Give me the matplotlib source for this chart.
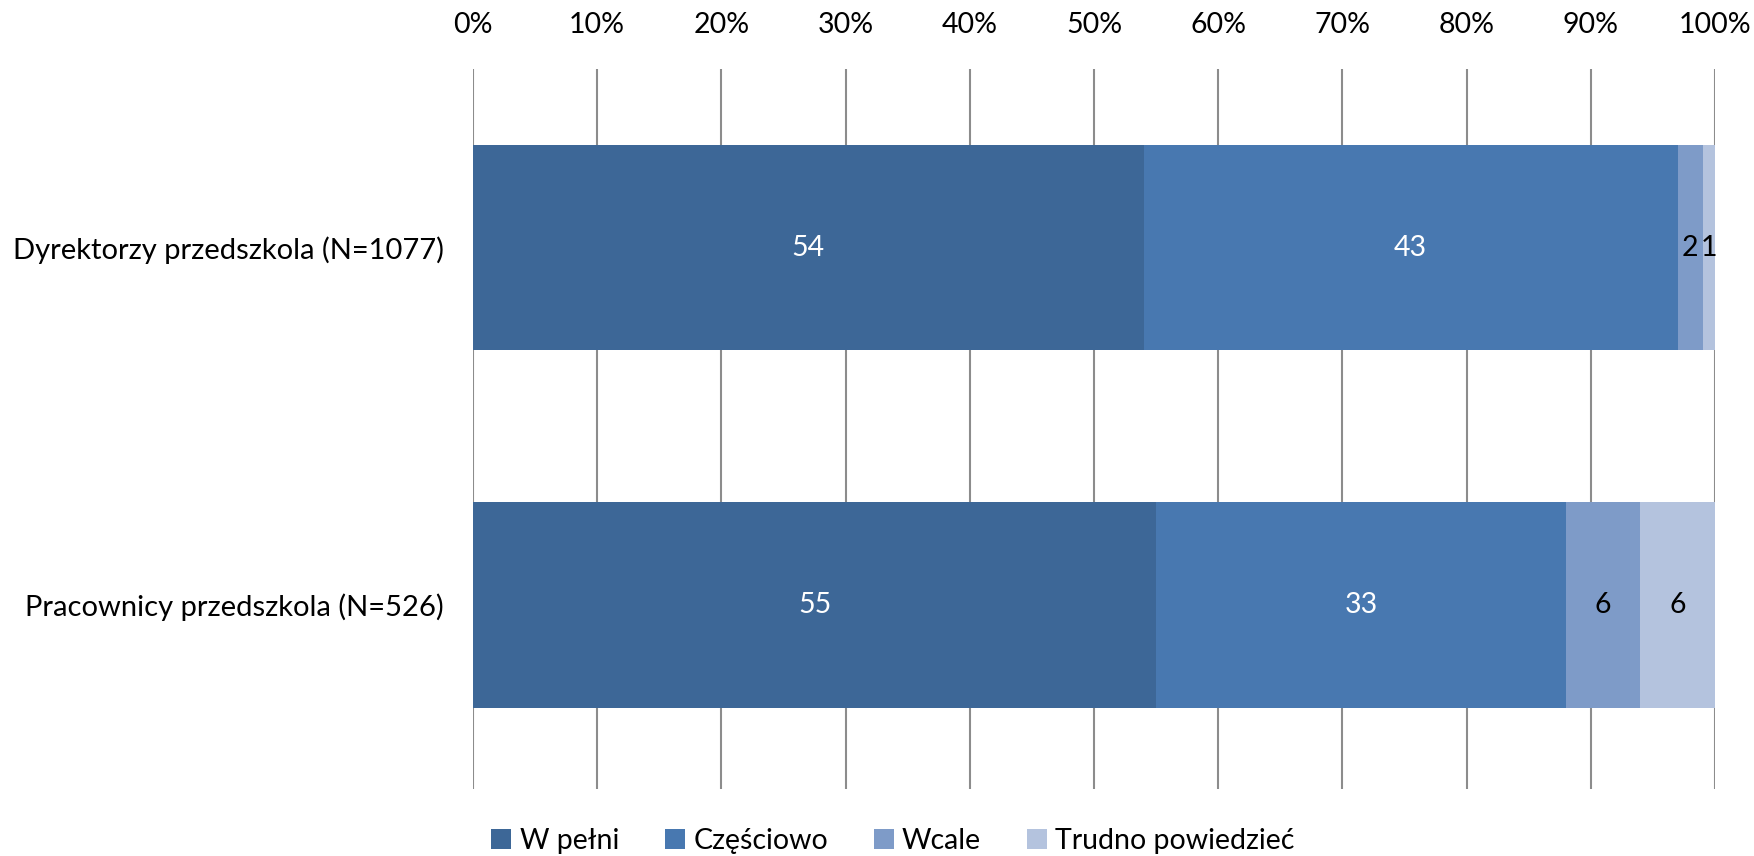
import matplotlib
matplotlib.use("Agg")
import matplotlib.pyplot as plt
import numpy as np

plt.rcParams['font.family'] = ['Lato', 'DejaVu Sans']

categories = ["Dyrektorzy przedszkola (N=1077)", "Pracownicy przedszkola (N=526)"]
series_names = ["W pełni", "Częściowo", "Wcale", "Trudno powiedzieć"]
w_pelni = [54, 55]
czesciowo = [43, 33]
wcale = [2, 6]
trudno = [1, 6]
colors = ["#3D6797", "#4878B0", "#7E9BC8", "#B4C3DE"]
label_colors = ["white", "white", "black", "black"]
xticks = [0, 10, 20, 30, 40, 50, 60, 70, 80, 90, 100]

fig = plt.figure(figsize=(17.54, 8.56), dpi=100)
ax = fig.add_axes([473/1754, 1 - 789/856, (1715-473)/1754, (789-69)/856])

y = np.arange(len(categories))
left = np.zeros(len(categories))
for vals, name, col, lc in zip([w_pelni, czesciowo, wcale, trudno], series_names, colors, label_colors):
    vals = np.array(vals, dtype=float)
    ax.barh(y, vals, left=left, height=0.575, color=col, label=name, zorder=3)
    for yi, l, v in zip(y, left, vals):
        ax.text(l + v/2, yi, f"{int(v)}", ha='center', va='center', color=lc, fontsize=20.5, zorder=4)
    left += vals

ax.set_xlim(0, 100)
ax.set_ylim(1.515, -0.5)
ax.set_yticks(y)
ax.set_yticklabels(categories, fontsize=21)
ax.set_xticks(xticks)
ax.set_xticklabels([f"{t}%" for t in xticks], fontsize=20.5)
ax.xaxis.tick_top()
ax.tick_params(axis='x', length=0, pad=22)
ax.tick_params(axis='y', length=0, pad=21)
for s in ax.spines.values():
    s.set_visible(False)
ax.grid(axis='x', color='#8C8C8C', linewidth=1.5, zorder=1)

fig.legend(loc='center', bbox_to_anchor=(893/1754, 1 - 841/856), ncol=4, frameon=False,
           fontsize=20.5, handlelength=0.7, handleheight=0.7, handletextpad=0.3, columnspacing=1.6)

fig.savefig("out.png", dpi=100)
